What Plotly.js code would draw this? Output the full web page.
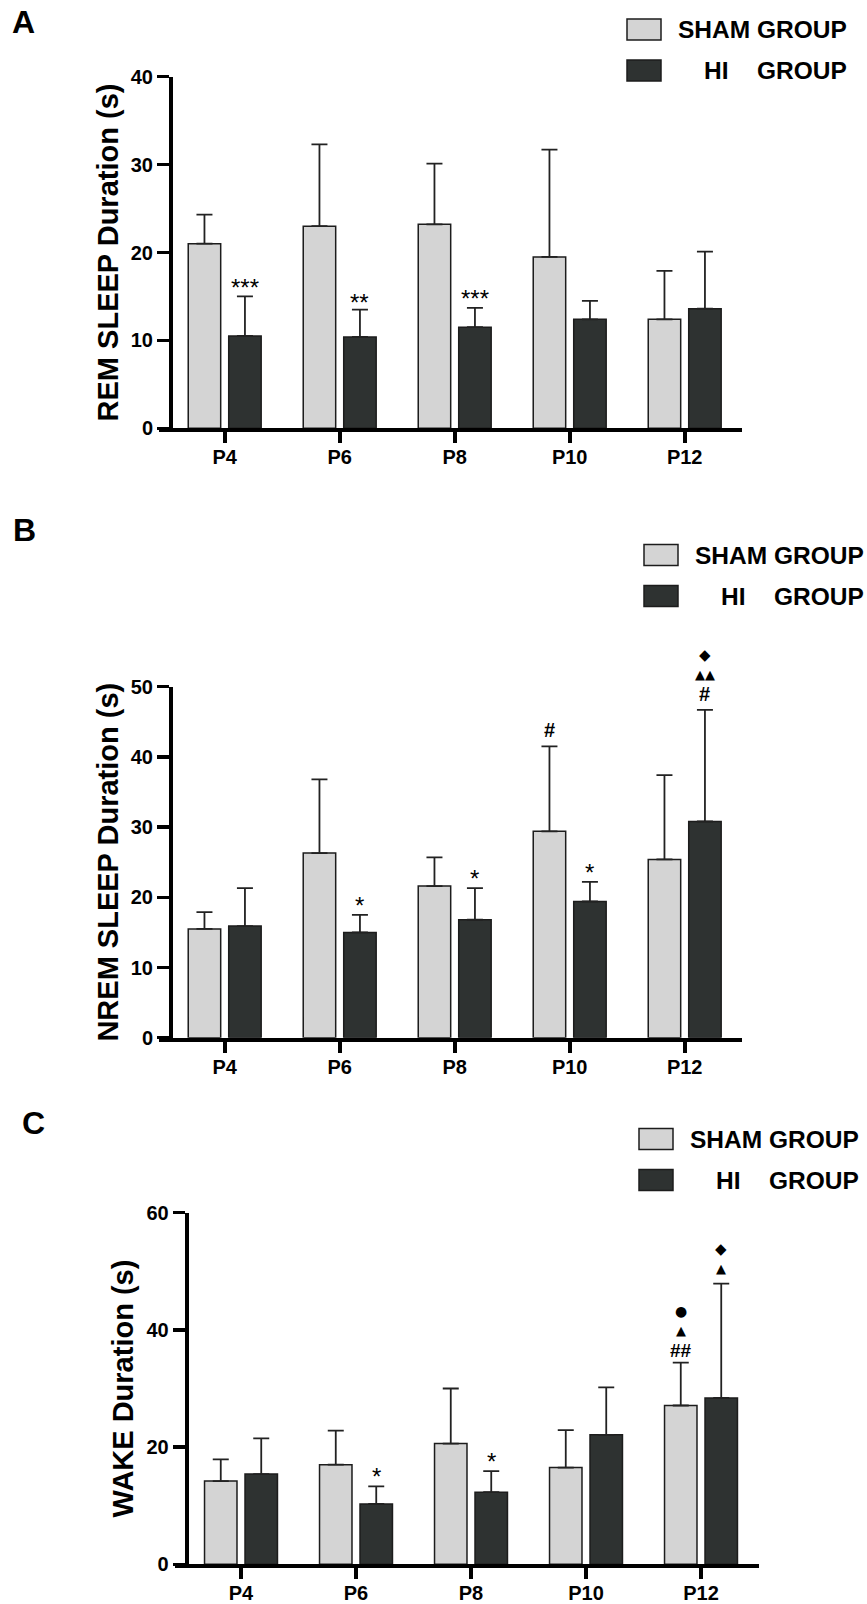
<!DOCTYPE html>
<html><head><meta charset="utf-8">
<script src="https://cdn.plot.ly/plotly-3.0.1.min.js"></script>
<style>html,body{margin:0;padding:0;background:#fff;} #chart{width:867px;height:1604px;}</style>
</head><body><div id="chart"></div>
<script>
// ---------------- DATA ----------------
const categories = ['P4', 'P6', 'P8', 'P10', 'P12'];
const shamName = 'SHAM GROUP';
const hiName = 'HI GROUP';

const remSham   = [21.0, 23.0, 23.2, 19.5, 12.4];
const remShamSD = [3.3, 9.3, 6.9, 12.2, 5.5];
const remHI     = [10.5, 10.4, 11.5, 12.4, 13.6];
const remHISD   = [4.5, 3.1, 2.2, 2.1, 6.5];

const nremSham   = [15.5, 26.3, 21.6, 29.4, 25.4];
const nremShamSD = [2.4, 10.5, 4.1, 12.1, 12.0];
const nremHI     = [15.9, 15.0, 16.8, 19.4, 30.8];
const nremHISD   = [5.4, 2.5, 4.5, 2.8, 15.9];

const wakeSham   = [14.2, 17.0, 20.6, 16.5, 27.1];
const wakeShamSD = [3.7, 5.8, 9.4, 6.4, 7.3];
const wakeHI     = [15.4, 10.3, 12.3, 22.1, 28.4];
const wakeHISD   = [6.1, 3.0, 3.6, 8.1, 19.5];

const remTicks  = [0, 10, 20, 30, 40];
const nremTicks = [0, 10, 20, 30, 40, 50];
const wakeTicks = [0, 20, 40, 60];

const remTitle  = 'REM SLEEP Duration (s)';
const nremTitle = 'NREM SLEEP Duration (s)';
const wakeTitle = 'WAKE Duration (s)';
const panelLetters = ['A', 'B', 'C'];

// significance marks: [category, group, labels from bottom to top]
const remMarks  = [['P4', 'HI', ['***']], ['P6', 'HI', ['**']], ['P8', 'HI', ['***']]];
const nremMarks = [['P6', 'HI', ['*']], ['P8', 'HI', ['*']], ['P10', 'SHAM', ['#']], ['P10', 'HI', ['*']],
                   ['P12', 'HI', ['#', '▲▲', '◆']]];
const wakeMarks = [['P6', 'HI', ['*']], ['P8', 'HI', ['*']], ['P12', 'SHAM', ['##', '▲', '●']],
                   ['P12', 'HI', ['▲', '◆']]];

// ---------------- STYLE / LAYOUT ----------------
const W = 867, H = 1604;
const FONT = 'Liberation Sans, Arial, Helvetica, sans-serif';
const SYMFONT = 'DejaVu Sans, sans-serif';
const SHAM_COLOR = '#d4d4d4';
const HI_COLOR = '#2e3231';
const EDGE = '#1c1c1c';
const BARGAP = 0.296, BARGROUPGAP = 0.198;
const SPACING = 115;

const panels = [
  {sham: remSham, shamSD: remShamSD, hi: remHI, hiSD: remHISD, ticks: remTicks, title: remTitle, marks: remMarks,
   xl: 159, c0: 224.7, yx: 171, top: 76.7, bottom: 428.3, legX: 627, legY: [29.5, 70.5], letter: [23, 22.5]},
  {sham: nremSham, shamSD: nremShamSD, hi: nremHI, hiSD: nremHISD, ticks: nremTicks, title: nremTitle, marks: nremMarks,
   xl: 159, c0: 224.7, yx: 171, top: 686.7, bottom: 1037.7, legX: 644, legY: [555, 596], letter: [24, 530]},
  {sham: wakeSham, shamSD: wakeShamSD, hi: wakeHI, hiSD: wakeHISD, ticks: wakeTicks, title: wakeTitle, marks: wakeMarks,
   xl: 175, c0: 241, yx: 186.7, top: 1212.7, bottom: 1564.3, legX: 639, legY: [1139, 1180], letter: [33, 1123]}
];

const px = v => v / W;
const py = v => 1 - v / H;

// glyph styles: font, first-level offset above cap (px), vertical glyph correction
const markStyle = {
  '***': {family: FONT, size: 24, weight: 'normal', off: 14.5, corr: 5.5},
  '**':  {family: FONT, size: 24, weight: 'normal', off: 13.0, corr: 5.5},
  '*':   {family: FONT, size: 24, weight: 'normal', off: 15.0, corr: 5.5},
  '#':   {family: FONT, size: 20, weight: 'bold', off: 16.0, corr: 0},
  '##':  {family: FONT, size: 19, weight: 'bold', off: 12.5, corr: 0},
  '▲':   {family: SYMFONT, size: 13, weight: 'normal', off: 14.7, corr: 0},
  '▲▲':  {family: SYMFONT, size: 13, weight: 'normal', off: 14.7, corr: 0},
  '◆':   {family: SYMFONT, size: 15, weight: 'normal', off: 14.7, corr: 0},
  '●':   {family: SYMFONT, size: 14, weight: 'normal', off: 14.7, corr: 0}
};
const STACK_STEP = 19.5;

const traces = [];
const layout = {
  width: W, height: H,
  margin: {l: 0, r: 0, t: 0, b: 0},
  paper_bgcolor: '#ffffff', plot_bgcolor: 'rgba(0,0,0,0)',
  barmode: 'group', bargap: BARGAP, bargroupgap: BARGROUPGAP,
  showlegend: false,
  font: {family: FONT, color: '#000'},
  annotations: [], shapes: []
};

const barOffset = (1 - BARGAP) / 4;

panels.forEach((p, i) => {
  const n = i === 0 ? '' : String(i + 1);
  const xa = 'x' + n, ya = 'y' + n;
  const errStyle = {type: 'data', symmetric: false, color: '#222', thickness: 1.8, width: 8};
  traces.push({
    type: 'bar', name: shamName, x: categories, y: p.sham, xaxis: xa, yaxis: ya,
    marker: {color: SHAM_COLOR, line: {color: EDGE, width: 1.5}},
    error_y: Object.assign({array: p.shamSD, arrayminus: [0, 0, 0, 0, 0]}, errStyle),
    hoverinfo: 'x+y'
  });
  traces.push({
    type: 'bar', name: hiName, x: categories, y: p.hi, xaxis: xa, yaxis: ya,
    marker: {color: HI_COLOR, line: {color: EDGE, width: 1.5}},
    error_y: Object.assign({array: p.hiSD, arrayminus: [0, 0, 0, 0, 0]}, errStyle),
    hoverinfo: 'x+y'
  });

  const xr = p.c0 + 4.5 * SPACING;
  layout['xaxis' + n] = {
    type: 'category', categoryarray: categories, categoryorder: 'array',
    domain: [px(p.xl), px(xr)],
    range: [-(p.c0 - p.xl) / SPACING, (xr - p.c0) / SPACING],
    anchor: ya, showline: true, linewidth: 4, linecolor: '#000',
    ticks: 'outside', ticklen: 11, tickwidth: 4, tickcolor: '#000',
    ticklabelstandoff: -3,
    tickfont: {family: FONT, size: 20, weight: 'bold', color: '#000'},
    showgrid: false, zeroline: false, fixedrange: true
  };
  layout['yaxis' + n] = {
    domain: [py(p.bottom), py(p.top)],
    range: [0, p.ticks[p.ticks.length - 1]],
    anchor: 'free', position: px(p.yx),
    tickmode: 'array', tickvals: p.ticks,
    showline: true, linewidth: 4, linecolor: '#000',
    ticks: 'outside', ticklen: 12, tickwidth: 3.5, tickcolor: '#000',
    tickfont: {family: FONT, size: 20, weight: 'bold', color: '#000'},
    title: {text: p.title, font: {family: FONT, size: 29, weight: 'bold', color: '#000'}, standoff: 3},
    showgrid: false, zeroline: false, fixedrange: true
  };

  // significance marks
  p.marks.forEach(([cat, grp, labels]) => {
    const idx = categories.indexOf(cat);
    const isHI = grp === 'HI';
    const cap = isHI ? p.hi[idx] + p.hiSD[idx] : p.sham[idx] + p.shamSD[idx];
    const first = markStyle[labels[0]].off;
    labels.forEach((lab, k) => {
      const st = markStyle[lab];
      const off = first + k * STACK_STEP;
      layout.annotations.push({
        xref: xa, yref: ya, x: idx + (isHI ? barOffset : -barOffset), y: cap,
        text: lab, showarrow: false, xanchor: 'center', yanchor: 'middle',
        yshift: off - st.corr,
        font: {family: st.family, size: st.size, weight: st.weight, color: '#000'}
      });
    });
  });

  // panel letter
  layout.annotations.push({
    xref: 'paper', yref: 'paper', x: px(p.letter[0]), y: py(p.letter[1]),
    text: panelLetters[i], showarrow: false, xanchor: 'center', yanchor: 'middle',
    font: {family: FONT, size: 32, weight: 'bold', color: '#000'}
  });

  // legend (boxes + text)
  const bw = 34, bh = 21;
  [[SHAM_COLOR, p.legY[0]], [HI_COLOR, p.legY[1]]].forEach(([col, cy]) => {
    layout.shapes.push({
      type: 'rect', xref: 'paper', yref: 'paper',
      x0: px(p.legX), x1: px(p.legX + bw), y0: py(cy + bh / 2), y1: py(cy - bh / 2),
      fillcolor: col, line: {color: EDGE, width: 1.5}
    });
  });
  const lf = {family: FONT, size: 24.5, weight: 'bold', color: '#000'};
  layout.annotations.push({xref: 'paper', yref: 'paper', x: px(p.legX + 222), y: py(p.legY[0]),
    text: shamName, showarrow: false, xanchor: 'right', yanchor: 'middle', font: lf});
  const hiParts = hiName.split(' ');
  layout.annotations.push({xref: 'paper', yref: 'paper', x: px(p.legX + 75), y: py(p.legY[1]),
    text: hiParts[0], showarrow: false, xanchor: 'left', yanchor: 'middle', font: lf});
  layout.annotations.push({xref: 'paper', yref: 'paper', x: px(p.legX + 222), y: py(p.legY[1]),
    text: hiParts[1], showarrow: false, xanchor: 'right', yanchor: 'middle', font: lf});
});

Plotly.newPlot('chart', traces, layout, {displayModeBar: false, staticPlot: true});
</script>
</body></html>
